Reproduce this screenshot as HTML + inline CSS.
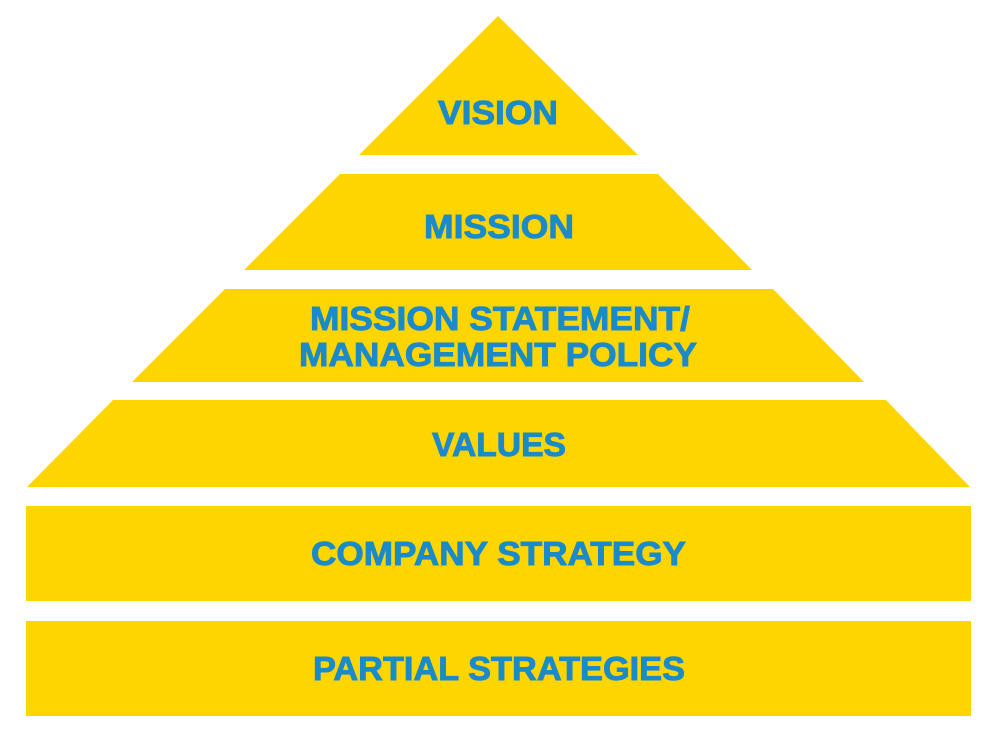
<!DOCTYPE html>
<html><head><meta charset="utf-8"><style>
html,body{margin:0;padding:0;background:#fff;width:1000px;height:750px;overflow:hidden}
text{font-family:"Liberation Sans",Arial,sans-serif;font-weight:bold;fill:#1a8bc8;stroke:#1a8bc8;stroke-width:0.9px;font-size:33px}
</style></head><body>
<svg width="1000" height="750" viewBox="0 0 1000 750" xmlns="http://www.w3.org/2000/svg">
<g fill="#ffd500">
<polygon points="498,16 638,155 359,155"/>
<polygon points="340,174 658,174 752,270 244,270"/>
<polygon points="225,289 773,289 864,382 132,382"/>
<polygon points="113,400 886,400 970,487 27,487"/>
<rect x="26" y="506" width="945" height="95"/>
<rect x="26" y="621" width="945" height="95"/>
</g>
<text x="438" y="124" textLength="120" lengthAdjust="spacingAndGlyphs">VISION</text>
<text x="424" y="238" textLength="150" lengthAdjust="spacingAndGlyphs">MISSION</text>
<text x="310" y="330" textLength="380" lengthAdjust="spacingAndGlyphs">MISSION STATEMENT/</text>
<text x="299" y="366" textLength="398" lengthAdjust="spacingAndGlyphs">MANAGEMENT POLICY</text>
<text x="432" y="456" textLength="134" lengthAdjust="spacingAndGlyphs">VALUES</text>
<text x="311" y="565" textLength="375" lengthAdjust="spacingAndGlyphs">COMPANY STRATEGY</text>
<text x="313" y="680" textLength="372" lengthAdjust="spacingAndGlyphs">PARTIAL STRATEGIES</text>
</svg>
</body></html>
